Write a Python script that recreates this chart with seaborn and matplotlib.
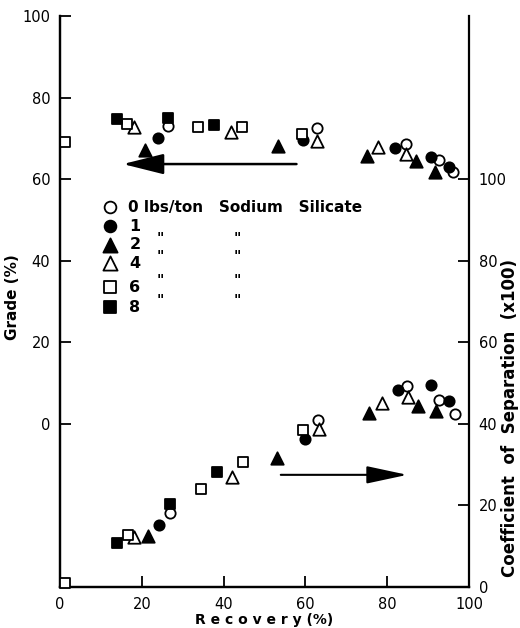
#! /usr/bin/env python3
'''
Grade and coefficient of separation vs recovery, by sodium silicate dosage
'''
# imports
import matplotlib
matplotlib.use("Agg")
import matplotlib.pyplot as plt
import pandas as pd
import seaborn as sns

# settings
sns.set_style("ticks")
plt.rcParams['font.family'] = ['DejaVu Sans']
plt.rcParams['text.color'] = 'black'
plt.rcParams['xtick.color'] = 'black'
plt.rcParams['ytick.color'] = 'black'
plt.rcParams['axes.edgecolor'] = 'black'

# data (lbs/ton sodium silicate)
doses = [0, 1, 2, 4, 6, 8]

grade_rec_0 = [26.4, 62.8, 84.6, 92.7, 96.1]
grade_0 = [73.0, 72.5, 68.6, 64.7, 61.8]
grade_rec_1 = [24.0, 59.5, 81.9, 90.7, 95.1]
grade_1 = [70.0, 69.5, 67.6, 65.4, 63.0]
grade_rec_2 = [20.8, 53.3, 75.0, 87.0, 91.7]
grade_2 = [67.2, 68.1, 65.7, 64.5, 61.8]
grade_rec_4 = [18.1, 41.8, 62.8, 77.7, 84.6]
grade_4 = [72.8, 71.6, 69.4, 67.9, 66.2]
grade_rec_6 = [1.2, 16.4, 33.7, 44.5, 59.2]
grade_6 = [69.0, 73.5, 72.8, 72.8, 71.0]
grade_rec_8 = [13.9, 26.4, 37.7]
grade_8 = [74.8, 75.0, 73.3]

coef_rec_0 = [26.9, 63.1, 84.8, 92.7, 96.6]
coef_0 = [18.2, 41.0, 49.4, 45.9, 42.5]
coef_rec_1 = [24.2, 59.9, 82.6, 90.7, 95.1]
coef_1 = [15.2, 36.4, 48.2, 49.6, 45.5]
coef_rec_2 = [21.5, 53.0, 75.6, 87.5, 91.9]
coef_2 = [12.5, 31.7, 42.7, 44.5, 43.2]
coef_rec_4 = [18.1, 42.1, 63.3, 78.7, 85.1]
coef_4 = [12.3, 27.0, 38.8, 45.2, 46.7]
coef_rec_6 = [1.2, 16.6, 34.5, 44.7, 59.4]
coef_6 = [1.0, 12.8, 24.0, 30.7, 38.6]
coef_rec_8 = [13.9, 26.9, 38.4]
coef_8 = [10.8, 20.4, 28.3]

grade_rec = [grade_rec_0, grade_rec_1, grade_rec_2, grade_rec_4, grade_rec_6, grade_rec_8]
grade_vals = [grade_0, grade_1, grade_2, grade_4, grade_6, grade_8]
coef_rec = [coef_rec_0, coef_rec_1, coef_rec_2, coef_rec_4, coef_rec_6, coef_rec_8]
coef_vals = [coef_0, coef_1, coef_2, coef_4, coef_6, coef_8]

grade_df = pd.concat([pd.DataFrame({'recovery': r, 'value': v, 'dose': d})
                      for r, v, d in zip(grade_rec, grade_vals, doses)])
coef_df = pd.concat([pd.DataFrame({'recovery': r, 'value': v, 'dose': d})
                     for r, v, d in zip(coef_rec, coef_vals, doses)])

# marker style per dose
markers = {0: 'o', 1: 'o', 2: '^', 4: '^', 6: 's', 8: 's'}
faces = {0: 'white', 1: 'black', 2: 'black', 4: 'white', 6: 'white', 8: 'black'}
sizes = {0: 55, 1: 55, 2: 80, 4: 80, 6: 52, 8: 52}

# create figure
fig = plt.figure(figsize=(5.2, 6.28), dpi=100)
ax = fig.add_axes([0.1154, 0.0653, 0.7865, 0.9092])
ax2 = ax.twinx()

for d in doses:
    g = grade_df[grade_df['dose'] == d]
    c = coef_df[coef_df['dose'] == d]
    sns.scatterplot(data=g, x='recovery', y='value', ax=ax, marker=markers[d],
                    s=sizes[d], color=faces[d], edgecolor='black', linewidth=1.3,
                    zorder=3, clip_on=False)
    sns.scatterplot(data=c, x='recovery', y='value', ax=ax2, marker=markers[d],
                    s=sizes[d], color=faces[d], edgecolor='black', linewidth=1.3,
                    zorder=3, clip_on=False)

# axes
ax.set_xlim(0, 100)
ax.set_ylim(-40, 100)
ax2.set_ylim(0, 140)
ax.set_xticks([0, 20, 40, 60, 80, 100])
ax.set_yticks([0, 20, 40, 60, 80, 100])
ax2.set_yticks([0, 20, 40, 60, 80, 100])
ax.set_xlabel("")
ax.set_ylabel("")
ax2.set_ylabel("")
for a in (ax, ax2):
    a.spines['top'].set_visible(False)
    for s in a.spines.values():
        s.set_linewidth(1.6)
    a.tick_params(direction='in', length=8, width=1.3, labelsize=10.5, pad=7)
ax.spines['right'].set_visible(False)

ax.text(-0.115, 0.508, "Grade (%)", transform=ax.transAxes, rotation=90,
        ha='center', va='center', fontsize=11, fontweight='bold')
ax.text(0.5, -0.058, "R e c o v e r y (%)", transform=ax.transAxes,
        ha='center', va='center', fontsize=10, fontweight='bold')
ax.text(1.1, 0.296, "Coefficient  of  Separation  (x100)", transform=ax.transAxes,
        rotation=90, ha='center', va='center', fontsize=12, fontweight='bold')

# arrows
ax.annotate('', xy=(14.7, 63.7), xytext=(58.5, 63.7),
            arrowprops=dict(arrowstyle='-|>,head_length=1.4,head_width=0.35',
                            lw=1.8, color='black', mutation_scale=18))
ax2.annotate('', xy=(85.6, 27.5), xytext=(53.3, 27.5),
             arrowprops=dict(arrowstyle='-|>,head_length=1.4,head_width=0.3',
                             lw=1.5, color='black', mutation_scale=18))

# legend drawn by hand
row_y = [0.6655, 0.632, 0.599, 0.567, 0.525, 0.49]
for d, y in zip(doses, row_y):
    ax.scatter([0.122], [y], transform=ax.transAxes, marker=markers[d],
               s=sizes[d] * 1.3, facecolor=faces[d], edgecolor='black',
               linewidth=1.3, zorder=4, clip_on=False)
    if d == 0:
        ax.text(0.166, y, "0 lbs/ton   Sodium   Silicate", transform=ax.transAxes,
                ha='left', va='center', fontsize=11, fontweight='bold')
    else:
        ax.text(0.183, y, str(d), transform=ax.transAxes, ha='center',
                va='center', fontsize=11.5, fontweight='bold')
    if d in (2, 4, 6, 8):
        ax.text(0.2445, y + 0.012, '"', transform=ax.transAxes, ha='center',
                va='center', fontsize=10, fontweight='bold')
        ax.text(0.433, y + 0.012, '"', transform=ax.transAxes, ha='center',
                va='center', fontsize=10, fontweight='bold')

fig.savefig('out.png', dpi=100)
plt.close()
